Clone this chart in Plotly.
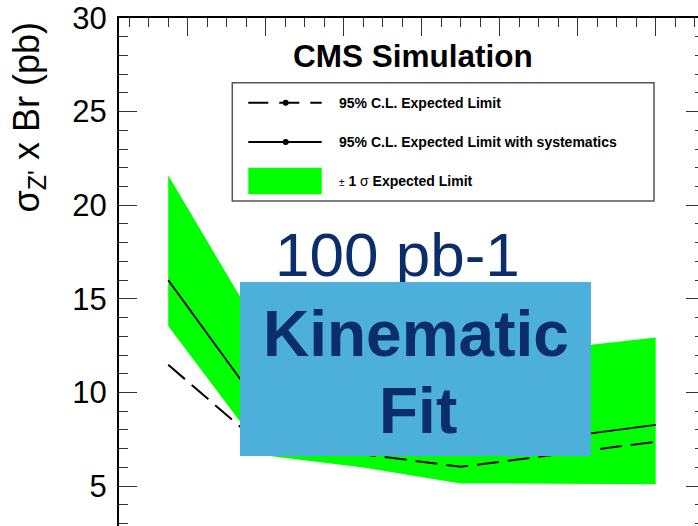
import plotly.graph_objects as go

# Z' mass points (GeV) and expected 95% C.L. limits on sigma x Br (pb)
mass = [750, 1000, 1250, 1500, 1750, 2000]
limit_expected = [11.48, 7.00, 6.70, 6.03, 6.70, 7.37]
limit_syst = [16.00, 8.85, 7.90, 7.30, 7.59, 8.27]
band_low = [13.55, 6.63, 5.99, 5.14, 5.13, 5.10]
band_high = [21.60, 12.80, 12.00, 11.90, 12.35, 12.94]

y_major_ticks = [5, 10, 15, 20, 25, 30]

W, H = 698, 526
ML, MR, MT, MB = 119, 0, 18, 0
PW, PH = W - ML - MR, H - MT - MB

GREEN = "#00ff00"
NAVY = "#0b2d6b"
BOX_BLUE = "#4cb0db"
FONT = "Liberation Sans, Arial, Helvetica, sans-serif"


def px(x):
    return (x - ML) / PW


def py(y):
    return (H - MB - y) / PH


fig = go.Figure()

# +/- 1 sigma band
fig.add_trace(go.Scatter(x=mass, y=band_low, mode="lines", line=dict(width=0),
                         hoverinfo="skip", showlegend=False))
fig.add_trace(go.Scatter(x=mass, y=band_high, mode="lines", line=dict(width=0),
                         fill="tonexty", fillcolor=GREEN, hoverinfo="skip",
                         showlegend=False))
# expected limit (dashed) and with systematics (solid)
fig.add_trace(go.Scatter(x=mass, y=limit_expected, mode="lines",
                         line=dict(color="black", width=2, dash="22px,9px"),
                         showlegend=False))
fig.add_trace(go.Scatter(x=mass, y=limit_syst, mode="lines",
                         line=dict(color="black", width=1.8),
                         showlegend=False))
# carrier for the right-hand tick axis
fig.add_trace(go.Scatter(x=mass, y=band_high, mode="none", yaxis="y2",
                         hoverinfo="skip", showlegend=False))

x_range = [623.8, 2108.5]
y_range = [2.87, 30]

fig.update_layout(
    width=W, height=H,
    margin=dict(l=ML, r=MR, t=MT, b=MB, pad=0),
    paper_bgcolor="white", plot_bgcolor="white",
    font=dict(family=FONT, color="black"),
    xaxis=dict(range=x_range, side="top", showline=True, linecolor="black",
               linewidth=2, ticks="inside", ticklen=18, tickwidth=1.2,
               tickcolor="#333", tick0=0, dtick=200, showticklabels=False,
               showgrid=False, zeroline=False,
               minor=dict(dtick=50, ticks="inside", ticklen=9, tickwidth=1.2,
                          tickcolor="#333", showgrid=False)),
    yaxis=dict(range=y_range, showline=True, linecolor="black", linewidth=2,
               ticks="inside", ticklen=18, tickwidth=1.2, tickcolor="#333",
               tickvals=y_major_ticks, ticktext=[str(v) for v in y_major_ticks],
               tickfont=dict(size=31, family=FONT, color="black"),
               ticklabelstandoff=4,
               showgrid=False, zeroline=False,
               minor=dict(dtick=1, tick0=0, ticks="inside", ticklen=9,
                          tickwidth=1.2, tickcolor="#333", showgrid=False)),
    yaxis2=dict(range=y_range, overlaying="y", side="right", showline=False,
                ticks="inside", ticklen=12, tickwidth=1.2, tickcolor="#333",
                tick0=0, dtick=5, showticklabels=False, showgrid=False,
                zeroline=False,
                minor=dict(dtick=1, tick0=0, ticks="inside", ticklen=3,
                           tickwidth=1.2, tickcolor="#333", showgrid=False)),
)

shapes = []
annotations = []

# legend frame
shapes.append(dict(type="rect", xref="paper", yref="paper",
                   x0=px(232.3), x1=px(654), y0=py(201), y1=py(82.7),
                   line=dict(color="#555", width=1.5), fillcolor="white",
                   layer="above"))
# legend samples
shapes.append(dict(type="line", xref="paper", yref="paper",
                   x0=px(248.3), x1=px(321.7), y0=py(102.7), y1=py(102.7),
                   line=dict(color="black", width=2, dash="20px,11px")))
shapes.append(dict(type="circle", xref="paper", yref="paper",
                   x0=px(282.7), x1=px(288.7), y0=py(105.7), y1=py(99.7),
                   fillcolor="black", line=dict(width=0)))
shapes.append(dict(type="line", xref="paper", yref="paper",
                   x0=px(248.3), x1=px(321.7), y0=py(142), y1=py(142),
                   line=dict(color="black", width=2)))
shapes.append(dict(type="circle", xref="paper", yref="paper",
                   x0=px(282.7), x1=px(288.7), y0=py(145), y1=py(139),
                   fillcolor="black", line=dict(width=0)))
shapes.append(dict(type="rect", xref="paper", yref="paper",
                   x0=px(248.3), x1=px(321.7), y0=py(194.3), y1=py(167.7),
                   fillcolor=GREEN, line=dict(width=0)))

legend_rows = [
    ("<b>95% C.L. Expected Limit</b>", 102.7),
    ("<b>95% C.L. Expected Limit with systematics</b>", 142),
    ("<span style='font-size:10px'>±</span> <b>1</b> σ <b>Expected Limit</b>", 180.7),
]
for txt, yc in legend_rows:
    annotations.append(dict(text=txt, xref="paper", yref="paper",
                            x=px(337.3), y=py(yc), xanchor="left",
                            yanchor="middle", showarrow=False,
                            font=dict(size=14, family=FONT, color="black")))

# header
annotations.append(dict(text="<b>CMS Simulation</b>", xref="paper", yref="paper",
                        x=px(413), y=py(56), xanchor="center", yanchor="middle",
                        showarrow=False,
                        font=dict(size=31.5, family=FONT, color="black")))

# y-axis title
annotations.append(dict(text="σ<sub>Z'</sub> x Br (pb)", xref="paper",
                        yref="paper", x=px(29), y=py(117.5), xanchor="center",
                        yanchor="middle", textangle=-90, showarrow=False,
                        font=dict(size=36, family=FONT, color="black")))

# luminosity label
annotations.append(dict(text="100 pb-1", xref="paper", yref="paper",
                        x=px(397), y=py(255), xanchor="center",
                        yanchor="middle", showarrow=False,
                        font=dict(size=62, family=FONT, color=NAVY)))

# blue panel, drawn over the luminosity label
annotations.append(dict(text=" ", xref="paper", yref="paper",
                        x=px(240), y=py(281.7), xanchor="left", yanchor="top",
                        width=351, height=174, bgcolor=BOX_BLUE, borderpad=0,
                        borderwidth=0, showarrow=False,
                        font=dict(size=10)))
annotations.append(dict(text="<b>Kinematic</b>", xref="paper", yref="paper",
                        x=px(415.8), y=py(333.6), xanchor="center",
                        yanchor="middle", showarrow=False,
                        font=dict(size=64, family=FONT, color=NAVY)))
annotations.append(dict(text="<b>Fit</b>", xref="paper", yref="paper",
                        x=px(417.5), y=py(411), xanchor="center",
                        yanchor="middle", showarrow=False,
                        font=dict(size=64, family=FONT, color=NAVY)))

fig.update_layout(shapes=shapes, annotations=annotations)

fig.write_html("out.html")
